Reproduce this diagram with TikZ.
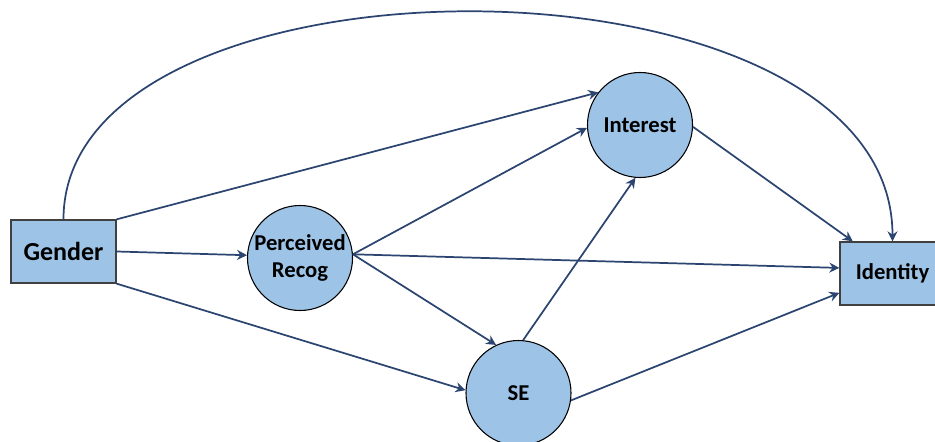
\documentclass[tikz,border=0pt]{standalone}
\usepackage{fontspec}
\setmainfont{Carlito}
\usepackage{tikz}
\usetikzlibrary{shapes, arrows.meta, positioning}
\usepackage{xcolor}
\definecolor{nodefill}{HTML}{9DC3E6}
\definecolor{arrowblue}{HTML}{2B4470}
\definecolor{boxedge}{HTML}{404040}

\begin{document}
\begin{tikzpicture}[x=0.75pt, y=-0.75pt, thick]
        % Define block styles
        \tikzstyle{block} = [rectangle, draw=boxedge, fill=nodefill, line width=1pt, minimum width=78.75pt, minimum height=47.25pt, inner sep=0pt, font=\bfseries\fontsize{17}{20}\selectfont]
        \tikzstyle{latent} = [circle, draw=black, fill=nodefill, line width=0.8pt, minimum size=78.75pt, inner sep=0pt, align=center, font=\bfseries\fontsize{17}{20}\selectfont]
        \tikzstyle{line} = [draw=arrowblue, line width=1.3pt, -{Stealth[length=7.5pt, width=7.5pt, inset=2.5pt]}]

        \useasboundingbox (0,0) rectangle (935,442);
        \clip (0,0) rectangle (935,442);

        % Define nodes
        \node [block, font=\bfseries\fontsize{19.5}{22}\selectfont] (Gender) at (63.5,251.5) {Gender};
        \node [latent] (Recog) at (300,258) {Perceived\\Recog};
        \node [latent] (Interest) at (640,125) {Interest};
        \node [latent] (SE) at (518.5,393) {SE};
        \node [block] (Identity) at (892.5,273.5) {Identity};

        % Connect nodes with paths
        \path [line] (Gender.north) .. controls +(0,-280) and +(0,-302) .. (Identity.north);
        \path [line] (Gender.north east) -- (Interest.142);
        \path [line] (Gender.east) -- (Recog.177);
        \path [line] (Gender.south east) -- (SE.177);
        \path [line] (Recog.4) -- (Interest.183);
        \path [line] (Recog.4) -- (Identity.174);
        \path [line] (Recog.4) -- (SE.115);
        \path [line] (SE.85) -- (Interest.265);
        \path [line] (SE.352) -- (Identity.200);
        \path [line] (Interest.358) -- (Identity.141);

    \end{tikzpicture}
\end{document}
